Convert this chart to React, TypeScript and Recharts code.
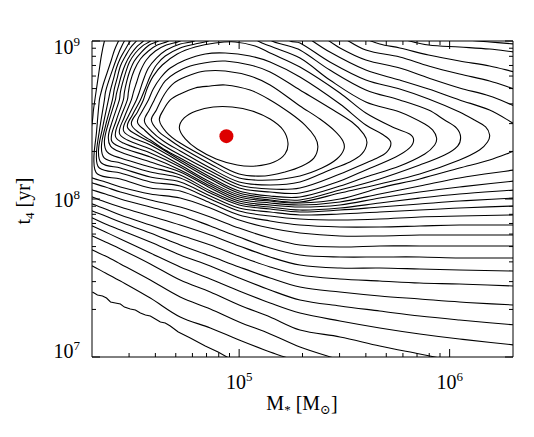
import { LineChart, Line, XAxis, YAxis, ReferenceDot } from 'recharts';

// contour levels as [log10 M*, log10 t4] pairs (inner to outer)
const lvl01 = [[4.716,8.449],[4.739,8.513],[4.796,8.557],[4.877,8.582],[4.967,8.582],[5.062,8.557],[5.147,8.506],[5.209,8.437],[5.232,8.354],[5.218,8.285],[5.166,8.234],[5.081,8.209],[4.991,8.215],[4.891,8.253],[4.801,8.316],[4.744,8.380],[4.716,8.449]];
const lvl02 = [[4.621,8.5],[4.64,8.563],[4.673,8.627],[4.72,8.665],[4.791,8.703],[4.863,8.715],[4.934,8.722],[5.052,8.69],[5.147,8.627],[5.242,8.544],[5.313,8.468],[5.36,8.392],[5.374,8.329],[5.355,8.259],[5.299,8.209],[5.218,8.171],[5.123,8.146],[5.0,8.158],[4.863,8.247],[4.72,8.354],[4.654,8.424],[4.621,8.5]];
const lvl03 = [[4.583,8.5],[4.607,8.563],[4.63,8.627],[4.659,8.69],[4.697,8.741],[4.768,8.785],[4.839,8.81],[4.934,8.81],[5.052,8.778],[5.147,8.722],[5.289,8.589],[5.384,8.506],[5.455,8.43],[5.493,8.367],[5.498,8.316],[5.464,8.253],[5.393,8.196],[5.289,8.146],[5.147,8.12],[5.0,8.133],[4.863,8.222],[4.72,8.329],[4.664,8.38],[4.616,8.43],[4.583,8.5]];
const lvl04 = [[4.55,8.494],[4.573,8.563],[4.597,8.627],[4.621,8.69],[4.649,8.747],[4.697,8.797],[4.768,8.842],[4.863,8.867],[4.934,8.873],[5.052,8.848],[5.147,8.804],[5.289,8.69],[5.431,8.576],[5.536,8.487],[5.592,8.411],[5.607,8.354],[5.583,8.285],[5.526,8.234],[5.431,8.184],[5.289,8.108],[5.147,8.089],[5.0,8.108],[4.863,8.196],[4.72,8.304],[4.64,8.367],[4.583,8.43],[4.55,8.494]];
const lvl05 = [[4.517,8.487],[4.54,8.557],[4.569,8.627],[4.592,8.696],[4.626,8.766],[4.673,8.829],[4.744,8.88],[4.839,8.918],[4.934,8.924],[5.052,8.905],[5.147,8.867],[5.289,8.772],[5.479,8.601],[5.602,8.468],[5.678,8.411],[5.72,8.361],[5.701,8.297],[5.645,8.253],[5.602,8.228],[5.479,8.158],[5.289,8.07],[5.147,8.063],[5.0,8.089],[4.863,8.177],[4.72,8.278],[4.616,8.361],[4.55,8.437],[4.517,8.487]];
const lvl06 = [[4.488,8.475],[4.517,8.551],[4.545,8.627],[4.564,8.703],[4.592,8.778],[4.635,8.848],[4.706,8.918],[4.791,8.962],[4.886,8.987],[4.981,8.994],[5.076,8.968],[5.147,8.924],[5.289,8.835],[5.479,8.671],[5.602,8.544],[5.739,8.449],[5.81,8.411],[5.829,8.373],[5.81,8.323],[5.744,8.266],[5.602,8.184],[5.479,8.114],[5.289,8.038],[5.147,8.044],[5.0,8.07],[4.863,8.158],[4.72,8.259],[4.649,8.31],[4.578,8.373],[4.526,8.418],[4.488,8.475]];
const lvl07 = [[4.886,9.032],[4.853,9.0],[4.791,8.981],[4.72,8.956],[4.649,8.905],[4.607,8.848],[4.578,8.778],[4.555,8.703],[4.531,8.627],[4.493,8.532],[4.469,8.456],[4.507,8.411],[4.578,8.361],[4.72,8.247],[4.863,8.139],[5.0,8.051],[5.147,8.019],[5.289,8.013],[5.479,8.082],[5.602,8.139],[5.763,8.209],[5.882,8.285],[5.929,8.342],[5.938,8.386],[5.919,8.437],[5.882,8.475],[5.763,8.551],[5.602,8.614],[5.431,8.753],[5.289,8.892],[5.147,8.968],[5.09,9.0],[5.071,9.032]];
const lvl08 = [[4.815,9.032],[4.787,9.0],[4.72,8.981],[4.654,8.943],[4.607,8.892],[4.569,8.829],[4.545,8.753],[4.526,8.677],[4.512,8.627],[4.474,8.525],[4.45,8.437],[4.488,8.392],[4.578,8.342],[4.72,8.234],[4.863,8.127],[5.0,8.038],[5.147,8.006],[5.289,7.994],[5.479,8.057],[5.668,8.127],[5.858,8.215],[5.976,8.278],[6.038,8.335],[6.052,8.392],[6.033,8.449],[5.976,8.5],[5.9,8.563],[5.763,8.627],[5.602,8.69],[5.431,8.816],[5.289,8.943],[5.218,8.975],[5.156,9.0],[5.137,9.032]];
const lvl09 = [[4.744,9.032],[4.72,9.0],[4.654,8.975],[4.602,8.937],[4.559,8.88],[4.531,8.81],[4.512,8.734],[4.498,8.677],[4.488,8.627],[4.455,8.519],[4.431,8.418],[4.469,8.373],[4.578,8.316],[4.72,8.215],[4.863,8.108],[5.0,8.025],[5.147,7.994],[5.289,7.981],[5.479,8.038],[5.668,8.095],[5.858,8.158],[6.047,8.247],[6.142,8.31],[6.18,8.361],[6.19,8.405],[6.171,8.456],[6.118,8.5],[6.047,8.551],[5.9,8.633],[5.763,8.696],[5.602,8.753],[5.431,8.867],[5.289,8.987],[5.242,9.0],[5.223,9.032]];
const lvl10a = [[4.682,9.032],[4.664,9.0],[4.611,8.975],[4.569,8.937],[4.531,8.886],[4.502,8.816],[4.483,8.741],[4.474,8.677],[4.469,8.627],[4.436,8.513],[4.412,8.399],[4.45,8.354],[4.578,8.291],[4.72,8.203],[4.863,8.095],[5.0,8.013],[5.147,7.987],[5.289,7.975],[5.479,8.0],[5.668,8.07],[5.858,8.127],[6.047,8.196],[6.19,8.247],[6.308,8.304]];
const lvl10b = [[5.313,9.032],[5.431,8.93],[5.602,8.816],[5.763,8.753],[5.9,8.696],[6.047,8.627],[6.19,8.563],[6.308,8.475]];
const lvl11a = [[4.635,9.032],[4.616,9.0],[4.573,8.975],[4.536,8.93],[4.502,8.873],[4.479,8.804],[4.464,8.734],[4.455,8.677],[4.45,8.627],[4.417,8.5],[4.393,8.373],[4.436,8.329],[4.578,8.266],[4.72,8.184],[4.863,8.082],[5.0,8.0],[5.147,7.975],[5.289,7.962],[5.479,7.981],[5.668,8.032],[5.858,8.082],[6.047,8.133],[6.308,8.184]];
const lvl11b = [[5.393,9.032],[5.479,8.956],[5.602,8.88],[5.763,8.829],[5.9,8.766],[6.047,8.703],[6.19,8.652],[6.308,8.589]];
const lvl12a = [[4.597,9.032],[4.578,9.0],[4.54,8.968],[4.507,8.924],[4.479,8.867],[4.46,8.797],[4.445,8.728],[4.436,8.677],[4.431,8.627],[4.398,8.494],[4.379,8.399],[4.389,8.335],[4.436,8.297],[4.578,8.234],[4.72,8.171],[4.863,8.07],[5.0,7.987],[5.147,7.962],[5.289,7.949],[5.479,7.962],[5.668,8.006],[5.858,8.044],[6.047,8.076],[6.308,8.114]];
const lvl12b = [[5.479,9.032],[5.602,8.943],[5.763,8.899],[5.9,8.842],[6.047,8.791],[6.19,8.747],[6.308,8.696]];
const lvl13a = [[4.564,9.032],[4.545,9.0],[4.512,8.962],[4.483,8.911],[4.46,8.854],[4.441,8.785],[4.427,8.715],[4.417,8.665],[4.412,8.627],[4.379,8.481],[4.36,8.367],[4.374,8.297],[4.436,8.259],[4.578,8.203],[4.72,8.152],[4.863,8.051],[5.0,7.975],[5.147,7.949],[5.289,7.93],[5.479,7.943],[5.668,7.975],[5.858,8.006],[6.047,8.032],[6.308,8.057]];
const lvl13b = [[5.564,9.032],[5.668,8.981],[5.763,8.956],[5.9,8.911],[6.047,8.873],[6.19,8.842],[6.308,8.804]];
const lvl14a = [[4.531,9.032],[4.512,9.0],[4.483,8.956],[4.46,8.905],[4.436,8.842],[4.422,8.772],[4.408,8.703],[4.398,8.627],[4.365,8.462],[4.346,8.335],[4.36,8.259],[4.436,8.228],[4.578,8.171],[4.72,8.133],[4.863,8.038],[5.0,7.962],[5.147,7.937],[5.289,7.918],[5.479,7.93],[5.668,7.949],[5.858,7.968],[6.047,7.987],[6.308,8.006]];
const lvl14b = [[5.739,9.032],[5.81,9.0],[5.9,8.975],[6.047,8.962],[6.19,8.949],[6.308,8.93]];
const lvl15a = [[4.502,9.032],[4.483,9.0],[4.46,8.949],[4.436,8.892],[4.417,8.829],[4.403,8.759],[4.389,8.69],[4.379,8.627],[4.351,8.449],[4.332,8.31],[4.346,8.228],[4.436,8.196],[4.578,8.139],[4.72,8.108],[4.863,8.019],[5.0,7.943],[5.147,7.918],[5.289,7.899],[5.479,7.905],[5.668,7.918],[5.858,7.93],[6.047,7.943],[6.308,7.956]];
const lvl15b = [[6.024,9.032],[6.095,9.006],[6.19,8.994],[6.308,8.981]];
const lvl16 = [[4.474,9.032],[4.455,9.0],[4.436,8.949],[4.417,8.886],[4.398,8.816],[4.379,8.741],[4.365,8.677],[4.36,8.627],[4.336,8.43],[4.322,8.278],[4.336,8.196],[4.436,8.165],[4.578,8.108],[4.72,8.082],[4.863,8.0],[5.0,7.924],[5.147,7.892],[5.289,7.873],[5.479,7.867],[5.668,7.873],[5.858,7.886],[6.047,7.892],[6.308,7.899]];
const lvl17 = [[4.441,9.032],[4.427,9.0],[4.408,8.943],[4.393,8.88],[4.374,8.804],[4.355,8.728],[4.341,8.658],[4.336,8.627],[4.322,8.418],[4.31,8.247],[4.327,8.158],[4.436,8.127],[4.578,8.07],[4.72,8.051],[4.863,7.975],[5.0,7.899],[5.147,7.861],[5.289,7.835],[5.479,7.823],[5.668,7.823],[5.858,7.829],[6.047,7.835],[6.308,7.835]];
// corner arc that leaves through the left edge
const lvl18a = [[4.37,9.032],[4.36,9.0],[4.346,8.911],[4.332,8.785],[4.318,8.658],[4.308,8.563],[4.303,8.494],[4.294,8.424]];

// levels coming in through the left edge: shared log10 M* columns, log10 t4 per level
const lowerX = [4.27, 4.303, 4.365, 4.436, 4.578, 4.72, 4.863, 5.0, 5.147, 5.289, 5.479, 5.668, 5.858, 6.047, 6.308];
const lvl18b = [8.158, 8.133, 8.108, 8.076, 8.032, 8.006, 7.943, 7.867, 7.816, 7.785, 7.766, 7.766, 7.772, 7.772, 7.772];
const lvl19 = [8.114, 8.101, 8.076, 8.044, 7.994, 7.949, 7.886, 7.816, 7.753, 7.709, 7.696, 7.703, 7.703, 7.703, 7.703];
const lvl20 = [8.07, 8.057, 8.032, 8.0, 7.949, 7.899, 7.829, 7.759, 7.69, 7.646, 7.633, 7.633, 7.633, 7.627, 7.627];
const lvl21 = [8.032, 8.013, 7.981, 7.949, 7.892, 7.835, 7.772, 7.703, 7.633, 7.582, 7.563, 7.563, 7.557, 7.551, 7.544];
const lvl22 = [7.987, 7.968, 7.937, 7.899, 7.835, 7.772, 7.709, 7.639, 7.57, 7.519, 7.494, 7.481, 7.468, 7.462, 7.449];
const lvl23 = [7.943, 7.924, 7.892, 7.854, 7.785, 7.709, 7.639, 7.57, 7.5, 7.443, 7.411, 7.386, 7.367, 7.348, 7.329];
const lvl24 = [7.899, 7.88, 7.842, 7.804, 7.728, 7.646, 7.576, 7.5, 7.424, 7.361, 7.323, 7.291, 7.259, 7.234, 7.203];
const lvl25 = [7.848, 7.829, 7.791, 7.747, 7.658, 7.57, 7.494, 7.418, 7.342, 7.278, 7.228, 7.184, 7.146, 7.114, 7.076];
const lvl26 = [7.785, 7.766, 7.728, 7.684, 7.589, 7.487, 7.411, 7.329, 7.253, 7.171, 7.127, 7.07, 7.019, 6.968];
const lvl27 = [7.703, 7.677, 7.639, 7.589, 7.487, 7.38, 7.304, 7.222, 7.146, 7.063, 6.981];
const lvl28 = [7.601, 7.576, 7.532, 7.481, 7.373, 7.253, 7.184, 7.108, 7.032, 6.968];

// outermost level, noisy
const lvl29 = [[4.303,7.411],[4.327,7.392],[4.351,7.386],[4.37,7.373],[4.389,7.348],[4.412,7.342],[4.436,7.335],[4.455,7.316],[4.483,7.304],[4.507,7.297],[4.531,7.278],[4.555,7.266],[4.578,7.259],[4.602,7.241],[4.626,7.222],[4.649,7.215],[4.673,7.196],[4.711,7.158],[4.768,7.12],[4.839,7.07],[4.9,7.032],[4.967,6.981]];

const best = { m: 8.7e4, t: 2.5e8 };

const xMajor = [1e5, 1e6];
const xMinor = [3e4, 4e4, 5e4, 6e4, 7e4, 8e4, 9e4, 2e5, 3e5, 4e5, 5e5, 6e5, 7e5, 8e5, 9e5];
const yMajor = [1e7, 1e8, 1e9];
const yMinor = [2e7, 3e7, 4e7, 5e7, 6e7, 7e7, 8e7, 9e7, 2e8, 3e8, 4e8, 5e8, 6e8, 7e8, 8e8, 9e8];

const FONT = '"Liberation Serif", "DejaVu Serif", serif';
const xTicks = [...xMinor, ...xMajor].sort((a, b) => a - b);
const yTicks = [...yMinor, ...yMajor].sort((a, b) => a - b);

const fromPairs = (arr: number[][]) => arr.map(([a, b]) => ({ x: 10 ** a, y: 10 ** b }));
const fromCols = (ys: number[]) => ys.map((b, i) => ({ x: 10 ** lowerX[i], y: 10 ** b }));

// smooth curve through the points (tangents from neighbours, chord-scaled handles)
const smoothCurve = (context: any) => {
  let pts: number[][] = [];
  return {
    areaStart() {},
    areaEnd() {},
    lineStart() { pts = []; },
    point(x: number, y: number) { pts.push([+x, +y]); },
    lineEnd() {
      const n = pts.length;
      if (!n) return;
      context.moveTo(pts[0][0], pts[0][1]);
      const closed = n > 3 && Math.abs(pts[0][0] - pts[n - 1][0]) < 0.01 && Math.abs(pts[0][1] - pts[n - 1][1]) < 0.01;
      const tangent = (i: number) => {
        let a, b;
        if (closed && (i === 0 || i === n - 1)) { a = pts[n - 2]; b = pts[1]; }
        else { a = pts[Math.max(i - 1, 0)]; b = pts[Math.min(i + 1, n - 1)]; }
        const dx = b[0] - a[0], dy = b[1] - a[1];
        const len = Math.hypot(dx, dy) || 1;
        return [dx / len, dy / len];
      };
      for (let i = 0; i < n - 1; i++) {
        const p = pts[i], q = pts[i + 1];
        const d = Math.hypot(q[0] - p[0], q[1] - p[1]) / 3;
        const t0 = tangent(i), t1 = tangent(i + 1);
        context.bezierCurveTo(p[0] + t0[0] * d, p[1] + t0[1] * d, q[0] - t1[0] * d, q[1] - t1[1] * d, q[0], q[1]);
      }
    },
  };
};

const segments = [
  ...[lvl01, lvl02, lvl03, lvl04, lvl05, lvl06, lvl07, lvl08, lvl09,
    lvl10a, lvl10b, lvl11a, lvl11b, lvl12a, lvl12b, lvl13a, lvl13b,
    lvl14a, lvl14b, lvl15a, lvl15b, lvl16, lvl17, lvl18a].map((s) => ({ pts: fromPairs(s), curve: smoothCurve as any })),
  ...[lvl18b, lvl19, lvl20, lvl21, lvl22, lvl23, lvl24, lvl25, lvl26, lvl27, lvl28].map((s) => ({ pts: fromCols(s), curve: smoothCurve as any })),
  { pts: fromPairs(lvl29), curve: 'linear' as any },
];

const exp = (v: number) => String(Math.round(Math.log10(v)));

const BottomTick = ({ x, y, payload }: any) => {
  const major = xMajor.includes(payload.value);
  return (
    <g>
      <line x1={x} x2={x} y1={y} y2={y - (major ? 8 : 4)} stroke="#000" />
      {major && (
        <text x={x} y={y + 32} textAnchor="middle" fontFamily={FONT} fontSize={20} fill="#000">
          10<tspan dy={-8} fontSize={13}>{exp(payload.value)}</tspan>
        </text>
      )}
    </g>
  );
};

const TopTick = ({ x, y, payload }: any) => {
  const major = xMajor.includes(payload.value);
  return <line x1={x} x2={x} y1={y} y2={y + (major ? 8 : 4)} stroke="#000" />;
};

const LeftTick = ({ x, y, payload }: any) => {
  const v = payload.value;
  const major = yMajor.includes(v);
  // end labels sit inside the frame
  const dy = v === yMajor[2] ? 13 : v === yMajor[0] ? 1 : 8;
  return (
    <g>
      <line x1={x} x2={x + (major ? 8 : 4)} y1={y} y2={y} stroke="#000" />
      {major && (
        <text x={x - 12} y={y + dy} textAnchor="end" fontFamily={FONT} fontSize={20} fill="#000">
          10<tspan dy={-8} fontSize={13}>{exp(v)}</tspan>
        </text>
      )}
    </g>
  );
};

const RightTick = ({ x, y, payload }: any) => {
  const major = yMajor.includes(payload.value);
  return <line x1={x} x2={x - (major ? 8 : 4)} y1={y} y2={y} stroke="#000" />;
};

export default function App() {
  return (
    <div style={{ position: 'absolute', left: 0, top: 0, width: 534, height: 437, background: '#fff' }}>
      <LineChart width={534} height={437} margin={{ top: 40, right: 20, bottom: 50, left: 52 }}>
        <XAxis dataKey="x" type="number" scale="log" domain={[2e4, 2e6]} allowDataOverflow
          ticks={xTicks} interval={0} height={30} tickSize={0} tickMargin={0}
          axisLine={{ stroke: '#000' }} tickLine={false} tick={<BottomTick />} />
        <XAxis xAxisId="top" orientation="top" dataKey="x" type="number" scale="log" domain={[2e4, 2e6]} allowDataOverflow
          ticks={xTicks} interval={0} height={1} tickSize={0} tickMargin={0}
          axisLine={{ stroke: '#000' }} tickLine={false} tick={<TopTick />} />
        <YAxis dataKey="y" type="number" scale="log" domain={[1e7, 1e9]} allowDataOverflow
          ticks={yTicks} interval={0} width={40} tickSize={0} tickMargin={0}
          axisLine={{ stroke: '#000' }} tickLine={false} tick={<LeftTick />} />
        <YAxis yAxisId="right" orientation="right" dataKey="y" type="number" scale="log" domain={[1e7, 1e9]} allowDataOverflow
          ticks={yTicks} interval={0} width={1} tickSize={0} tickMargin={0}
          axisLine={{ stroke: '#000' }} tickLine={false} tick={<RightTick />} />
        {segments.map((s, i) => (
          <Line key={i} data={s.pts} dataKey="y" type={s.curve} stroke="#000" strokeWidth={1.1}
            dot={false} activeDot={false} isAnimationActive={false} />
        ))}
        <ReferenceDot x={best.m} y={best.t} r={7} fill="#dd0000" stroke="none" />
      </LineChart>
      <svg width={534} height={437} style={{ position: 'absolute', left: 0, top: 0, pointerEvents: 'none' }}>
        <text x={302} y={410} textAnchor="middle" fontFamily={FONT} fontSize={20} fill="#000">
          M<tspan dy={4} fontSize={13}>*</tspan><tspan dy={-4}> [M</tspan><tspan dy={4} fontSize={13}>⊙</tspan><tspan dy={-4}>]</tspan>
        </text>
        <text x={30} y={201} transform="rotate(-90 30 201)" textAnchor="middle" fontFamily={FONT} fontSize={20} fill="#000">
          t<tspan dy={4} fontSize={13}>4</tspan><tspan dy={-4}> [yr]</tspan>
        </text>
      </svg>
    </div>
  );
}
